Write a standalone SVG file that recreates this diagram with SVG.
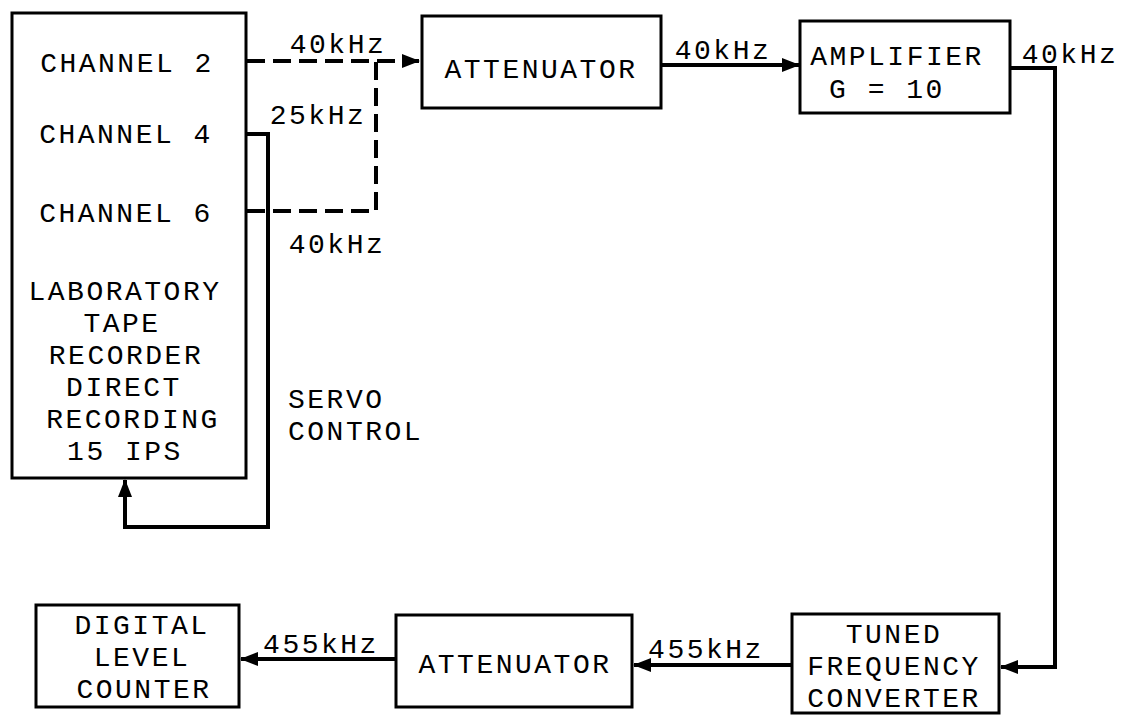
<svg xmlns="http://www.w3.org/2000/svg" width="1121" height="715" viewBox="0 0 1121 715">
<style>
.box{fill:none;stroke:#000;stroke-width:3}
.t{font-family:"Liberation Mono","DejaVu Sans Mono",monospace;font-size:28px;letter-spacing:2.5px;fill:#000;text-anchor:middle}
.ts{font-family:"Liberation Mono","DejaVu Sans Mono",monospace;font-size:28px;letter-spacing:2.5px;fill:#000;text-anchor:start}
.c{fill:none;stroke:#000;stroke-width:4;stroke-linejoin:miter}
.d{fill:none;stroke:#000;stroke-width:4;stroke-dasharray:18 8}
</style>
<defs>
<marker id="ah" markerUnits="userSpaceOnUse" markerWidth="18" markerHeight="14" refX="17" refY="7" orient="auto">
<path d="M0,0 L18,7 L0,14 z" fill="#000"/>
</marker>
</defs>
<rect width="1121" height="715" fill="#fff"/>
<g id="connectors">
<path class="d" d="M247,61 H419" marker-end="url(#ah)"/>
<path class="d" d="M247,211 H376 V61"/>
<path class="c" d="M247,134 H268 V527 H125 V480" marker-end="url(#ah)"/>
<path class="c" d="M661,65 H799" marker-end="url(#ah)"/>
<path class="c" d="M1010,68 H1055 V667 H1001" marker-end="url(#ah)"/>
<path class="c" d="M792,665 H634" marker-end="url(#ah)"/>
<path class="c" d="M396,659 H241" marker-end="url(#ah)"/>
</g>
<g id="labels">
<text class="t" x="338" y="53">40kHz</text>
<text class="t" x="318" y="124">25kHz</text>
<text class="t" x="337" y="253">40kHz</text>
<text class="ts" x="288" y="408">SERVO</text>
<text class="ts" x="288" y="440">CONTROL</text>
<text class="t" x="723" y="59">40kHz</text>
<text class="t" x="1070" y="63">40kHz</text>
<text class="t" x="321" y="653">455kHz</text>
<text class="t" x="706" y="658">455kHz</text>
</g>
<g id="tape-recorder">
<rect class="box" x="12" y="13" width="234" height="465"/>
<text class="t" x="127" y="72">CHANNEL 2</text>
<text class="t" x="126" y="143">CHANNEL 4</text>
<text class="t" x="126" y="222">CHANNEL 6</text>
<text class="t" x="125" y="300">LABORATORY</text>
<text class="t" x="122" y="332">TAPE</text>
<text class="t" x="126" y="364">RECORDER</text>
<text class="t" x="124" y="396">DIRECT</text>
<text class="t" x="133" y="428">RECORDING</text>
<text class="t" x="125" y="460">15 IPS</text>
</g>
<g id="attenuator1">
<rect class="box" x="422" y="16" width="239" height="92"/>
<text class="t" x="541" y="78">ATTENUATOR</text>
</g>
<g id="amplifier">
<rect class="box" x="800" y="21" width="210" height="92"/>
<text class="t" x="897" y="65">AMPLIFIER</text>
<text class="t" x="887" y="98">G = 10</text>
</g>
<g id="converter">
<rect class="box" x="792" y="614" width="207" height="99"/>
<text class="t" x="894" y="643">TUNED</text>
<text class="t" x="894" y="675">FREQUENCY</text>
<text class="t" x="894" y="707">CONVERTER</text>
</g>
<g id="attenuator2">
<rect class="box" x="396" y="615" width="236" height="92"/>
<text class="t" x="515" y="673">ATTENUATOR</text>
</g>
<g id="counter">
<rect class="box" x="36" y="605" width="203" height="102"/>
<text class="t" x="142" y="634">DIGITAL</text>
<text class="t" x="142" y="666">LEVEL</text>
<text class="t" x="144" y="698">COUNTER</text>
</g>
</svg>
